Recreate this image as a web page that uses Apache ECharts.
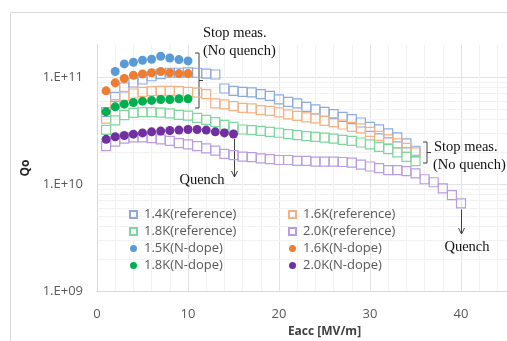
<!DOCTYPE html>
<html>
<head>
<meta charset="utf-8">
<script src="https://cdn.jsdelivr.net/npm/echarts@6/dist/echarts.min.js"></script>
<style>
  html, body { margin: 0; padding: 0; background: #fff; }
  #chart { width: 507px; height: 341px; }
</style>
</head>
<body>
<div id="chart"></div>
<script>
// Eacc [MV/m] and Qo values
const refX = [1, 2, 3, 4, 5, 6, 7, 8, 9, 10, 11, 12, 13, 14, 15, 16, 17, 18, 19, 20,
  21, 22, 23, 24, 25, 26, 27, 28, 29, 30, 31, 32, 33, 34, 35]
const ref20X = [1, 2, 3, 4, 5, 6, 7, 8, 9, 10, 11, 12, 13, 14, 15, 16, 17, 18, 19, 20,
  21, 22, 23, 24, 25, 26, 27, 28, 29, 30, 31, 32, 33, 34, 35, 36, 37, 38, 39, 40]

const ref14Q = [4.71e10, 6.54e10, 8.01e10, 8.92e10, 9.51e10, 1.02e11, 1.07e11, 1.10e11, 1.10e11, 1.11e11,
  1.10e11, 1.08e11, 1.06e11, 7.84e10, 7.45e10, 7.29e10, 7.20e10, 6.94e10, 6.69e10, 6.19e10,
  5.88e10, 5.68e10, 5.28e10, 4.99e10, 4.74e10, 4.51e10, 4.26e10, 4.05e10, 3.77e10, 3.43e10,
  3.25e10, 2.98e10, 2.73e10, 2.40e10, 2.05e10]
const ref16Q = [4.10e10, 5.60e10, 6.69e10, 7.04e10, 7.29e10, 7.40e10, 7.45e10, 7.45e10, 7.40e10, 7.29e10,
  7.17e10, 6.94e10, 5.68e10, 5.56e10, 5.36e10, 5.17e10, 5.10e10, 4.92e10, 4.84e10, 4.68e10,
  4.48e10, 4.35e10, 4.20e10, 4.11e10, 3.91e10, 3.80e10, 3.61e10, 3.43e10, 3.32e10, 3.08e10,
  2.83e10, 2.62e10, 2.40e10, 2.18e10, 1.98e10]
const ref18Q = [3.22e10, 3.94e10, 4.42e10, 4.64e10, 4.71e10, 4.71e10, 4.66e10, 4.58e10, 4.44e10, 4.37e10,
  4.16e10, 3.99e10, 3.80e10, 3.58e10, 3.43e10, 3.24e10, 3.20e10, 3.15e10, 3.08e10, 3.02e10,
  2.93e10, 2.87e10, 2.81e10, 2.77e10, 2.72e10, 2.66e10, 2.59e10, 2.54e10, 2.45e10, 2.35e10,
  2.23e10, 2.12e10, 1.98e10, 1.80e10, 1.64e10]
const ref20Q = [2.27e10, 2.50e10, 2.66e10, 2.73e10, 2.73e10, 2.69e10, 2.62e10, 2.54e10, 2.42e10, 2.35e10,
  2.27e10, 2.16e10, 2.06e10, 1.92e10, 1.87e10, 1.81e10, 1.79e10, 1.74e10, 1.71e10, 1.68e10,
  1.68e10, 1.65e10, 1.65e10, 1.62e10, 1.62e10, 1.62e10, 1.61e10, 1.59e10, 1.52e10, 1.46e10,
  1.41e10, 1.35e10, 1.35e10, 1.32e10, 1.26e10, 1.11e10, 1.04e10, 9.12e9, 7.89e9, 6.59e9]

const nd15X = [2, 3, 4, 5, 6, 7, 8, 9, 10]
const nd15Q = [1.13e11, 1.33e11, 1.38e11, 1.44e11, 1.47e11, 1.57e11, 1.51e11, 1.46e11, 1.42e11]
const nd16X = [1, 2, 3, 4, 5, 6, 7, 8, 9, 10]
const nd16Q = [7.45e10, 8.85e10, 9.72e10, 1.04e11, 1.07e11, 1.10e11, 1.13e11, 1.10e11, 1.08e11, 1.08e11]
const nd18X = [1, 2, 3, 4, 5, 6, 7, 8, 9, 10]
const nd18Q = [4.74e10, 5.28e10, 5.59e10, 5.80e10, 5.97e10, 6.06e10, 6.19e10, 6.19e10, 6.27e10, 6.27e10]
const nd20X = [1, 2, 3, 4, 5, 6, 7, 8, 9, 10, 11, 12, 13, 14, 15]
const nd20Q = [2.62e10, 2.77e10, 2.85e10, 2.93e10, 3.01e10, 3.08e10, 3.13e10, 3.17e10, 3.20e10, 3.24e10,
  3.24e10, 3.20e10, 3.08e10, 3.01e10, 2.94e10]

const yTickLabels = ["1.E+09", "1.E+10", "1.E+11"]
const legendLeft = ["1.4K(reference)", "1.8K(reference)", "1.5K(N-dope)", "1.8K(N-dope)"]
const legendRight = ["1.6K(reference)", "2.0K(reference)", "1.6K(N-dope)", "2.0K(N-dope)"]

const zip = (xs, ys) => xs.map((x, i) => [x, ys[i]])

// minor gridlines of the log axis (2..9 x 10^n)
const minorLines = []
for (let e = 9; e <= 11; e++) {
  for (let k = 2; k <= 9; k++) {
    if (k * Math.pow(10, e) < 2e11) minorLines.push({ yAxis: k * Math.pow(10, e) })
  }
}

const refSeries = (name, xs, ys, color) => ({
  name,
  type: "scatter",
  symbol: "rect",
  symbolSize: 9,
  z: 3,
  data: zip(xs, ys),
  itemStyle: { color: "rgba(255,255,255,0)", borderColor: color, borderWidth: 1.2, opacity: 1 },
})
const ndSeries = (name, xs, ys, color) => ({
  name,
  type: "scatter",
  symbol: "circle",
  symbolSize: 9,
  z: 4,
  data: zip(xs, ys),
  itemStyle: { color, opacity: 1 },
})

const legendBase = {
  orient: "vertical",
  top: 208,
  padding: 0,
  itemWidth: 7,
  itemHeight: 7,
  itemGap: 4,
  z: 10,
  textStyle: { fontFamily: "Open Sans", fontSize: 13, color: "#595959", lineHeight: 13, padding: [0, 0, 0, 2] },
}

const chart = echarts.init(document.getElementById("chart"))

chart.setOption({
  animation: false,
  backgroundColor: "#fff",
  grid: { left: 97, top: 45, width: 455, height: 246, outerBoundsMode: "none", containLabel: false },
  legend: [
    { ...legendBase, left: 129, data: legendLeft },
    { ...legendBase, left: 288, data: legendRight },
  ],
  xAxis: {
    type: "value",
    min: 0,
    max: 50,
    interval: 10,
    name: "Eacc [MV/m]",
    nameLocation: "middle",
    nameGap: 28,
    nameTextStyle: { fontFamily: "Open Sans", fontSize: 12, fontWeight: "bold", color: "#404040" },
    axisLine: { lineStyle: { color: "#d9d9d9" } },
    axisTick: { show: false },
    axisLabel: { fontFamily: "Open Sans", fontSize: 13, color: "#595959", margin: 17 },
    splitLine: { lineStyle: { color: "#e3e3e3" } },
    minorTick: { show: false, splitNumber: 5 },
    minorSplitLine: { show: true, lineStyle: { color: "#f2f2f2" } },
  },
  yAxis: {
    type: "log",
    logBase: 10,
    min: 1e9,
    max: 2e11,
    name: "Qo",
    nameLocation: "middle",
    nameRotate: 90,
    nameGap: 62,
    nameTextStyle: { fontFamily: "Open Sans", fontSize: 12, fontWeight: "bold", color: "#262626" },
    axisLine: { show: true, lineStyle: { color: "#d9d9d9" } },
    axisTick: { show: false },
    axisLabel: {
      fontFamily: "Open Sans",
      fontSize: 13,
      color: "#595959",
      margin: 14,
      showMaxLabel: false,
      formatter: (v) => yTickLabels[Math.round(Math.log10(v)) - 9] || "",
    },
    splitLine: { showMaxLine: false, lineStyle: { color: "#e3e3e3" } },
  },
  series: [
    {
      type: "scatter",
      data: [],
      silent: true,
      z: 1,
      markLine: {
        silent: true,
        symbol: "none",
        z: 0,
        label: { show: false },
        lineStyle: { color: "#f2f2f2", type: "solid", width: 1 },
        data: minorLines,
      },
    },
    refSeries("1.4K(reference)", refX, ref14Q, "#8eaadb"),
    refSeries("1.6K(reference)", refX, ref16Q, "#f4b183"),
    refSeries("1.8K(reference)", refX, ref18Q, "#7fd69e"),
    refSeries("2.0K(reference)", ref20X, ref20Q, "#b89ee0"),
    ndSeries("1.5K(N-dope)", nd15X, nd15Q, "#5b9bd5"),
    ndSeries("1.6K(N-dope)", nd16X, nd16Q, "#ed7d31"),
    ndSeries("1.8K(N-dope)", nd18X, nd18Q, "#00b050"),
    ndSeries("2.0K(N-dope)", nd20X, nd20Q, "#7030a0"),
  ],
})

// annotations: braces, arrows and notes, anchored on the data points
const px = (x, y) => chart.convertToPixel({ gridIndex: 0 }, [x, y])
const ink = "#404040"
const note = { fontFamily: "Liberation Serif", fontSize: 14.5, fill: "#111" }
const line = (points) => ({ type: "polyline", shape: { points }, style: { stroke: ink, lineWidth: 1, fill: null }, silent: true })
const text = (x, y, t, align) => ({
  type: "text", x, y, silent: true,
  style: { ...note, text: t, align: align || "left", verticalAlign: "middle" },
})
const brace = (x0, top, bottom) => {
  const mid = (top + bottom) / 2
  return [
    line([[x0, top], [x0 + 4, top], [x0 + 4, bottom], [x0, bottom]]),
    line([[x0 + 4, mid], [x0 + 8, mid]]),
  ]
}
const arrow = (x, y0, y1) => [
  line([[x, y0], [x, y1]]),
  line([[x - 3, y1 - 6], [x, y1], [x + 3, y1 - 6]]),
]

const qA = px(nd20X[nd20X.length - 1], nd20Q[nd20Q.length - 1])
const qB = px(ref20X[ref20X.length - 1], ref20Q[ref20Q.length - 1])

chart.setOption({
  graphic: [
    { type: "rect", shape: { x: 10.5, y: 12.5, width: 600, height: 400 }, style: { stroke: "#d9d9d9", fill: null, lineWidth: 1 }, silent: true },
    ...brace(195, 53, 108),
    text(203, 33, "Stop meas."),
    text(203, 51, "(No quench)"),
    ...brace(423, 142, 163),
    text(434, 147, "Stop meas."),
    text(433, 165, "(No quench)"),
    ...arrow(Math.round(qA[0]) + 0.5, qA[1] + 5, 177),
    text(202, 180, "Quench", "center"),
    ...arrow(Math.round(qB[0]) + 0.5, qB[1] + 6, 234),
    text(467, 247, "Quench", "center"),
  ],
})
</script>
</body>
</html>
